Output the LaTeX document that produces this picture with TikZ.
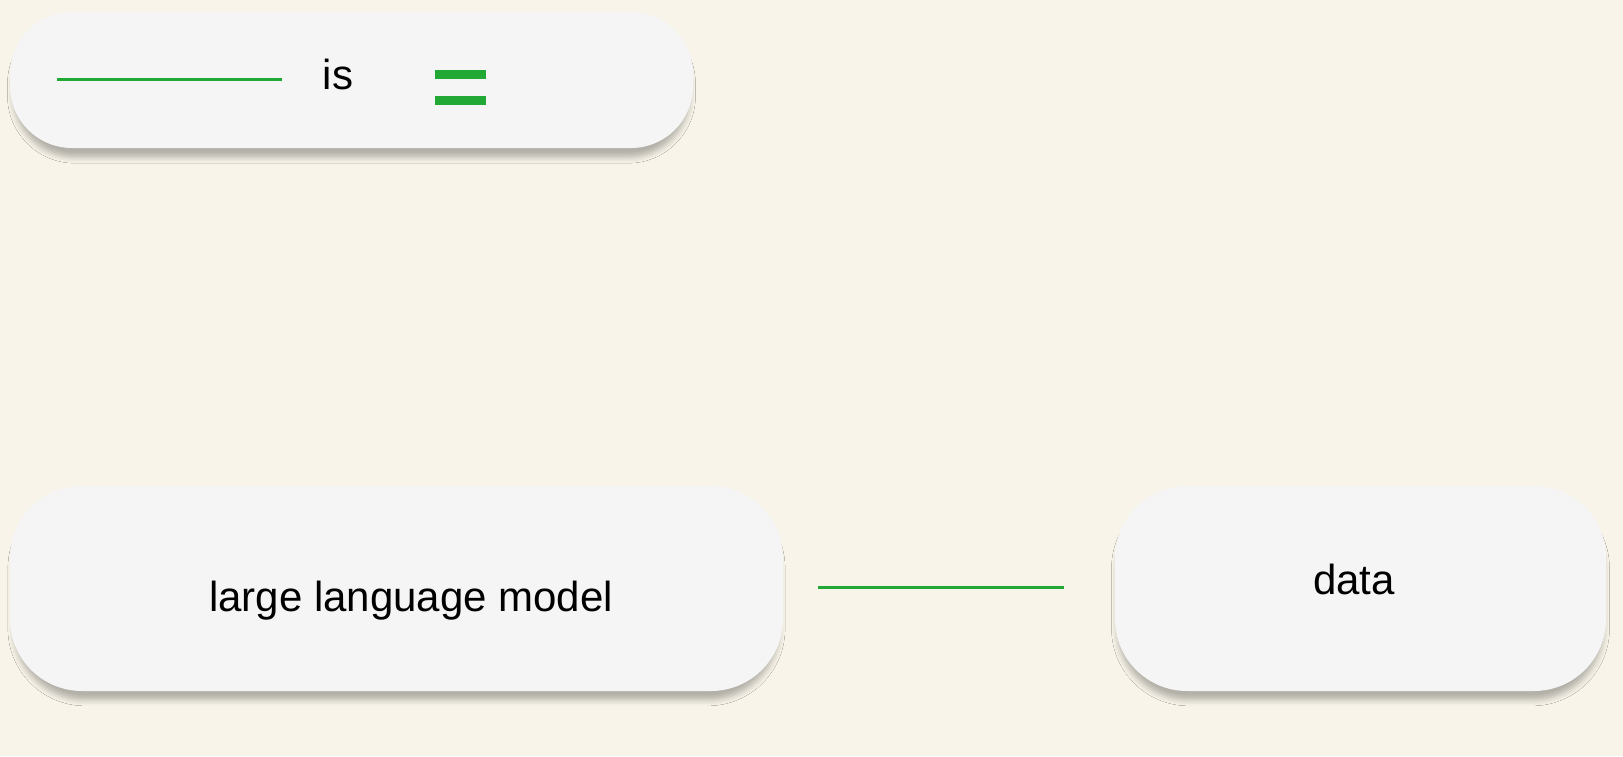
\documentclass[tikz,border=0pt]{standalone}
\usepackage{fontspec}
\setmainfont{Liberation Sans}
\usetikzlibrary{positioning, calc, shadows.blur}

\definecolor{paper}{HTML}{F8F4E9}
\definecolor{cardgray}{HTML}{F5F5F5}
\definecolor{blankgreen}{HTML}{22A935}

\begin{document}
\begin{tikzpicture}[
            x=1pt, y=-1pt,
            card/.style={rectangle, fill=cardgray, inner sep=0pt, rounded corners=#1, font=\fontsize{42}{50}\selectfont,
                blur shadow={shadow xshift=0pt, shadow yshift=-10pt, shadow blur radius=6pt, shadow opacity=28, shadow scale=0.99}},
            card/.default=62pt,
            blank/.style={draw=blankgreen, line width=3pt},
            word/.style={font=\fontsize{42}{50}\selectfont, inner sep=0pt}
        ]
        \fill[paper] (0,0) rectangle (1623,756);

        % top sentence
        \node[card, minimum width=683pt, minimum height=136pt] (sentence) at (351.5,80) {};
        \coordinate (gapstart) at (57,79);
        \coordinate (gapend) at (282,79);
        \draw[blank] (gapstart) -- (gapend);
        \node[word, anchor=base] (is) at (338,89) {is};
        \fill[blankgreen] (435,70) rectangle (486,79);
        \fill[blankgreen] (435,96) rectangle (486,105);

        % bottom pair
        \node[card=72pt, minimum width=773pt, minimum height=205pt] (llm) at (396.5,588.5) {};
        \node[word, anchor=base] (llmtext) at (411,611) {large language model};
        \node[card=72pt, minimum width=491pt, minimum height=205pt] (data) at (1360.5,588.5) {};
        \node[word, anchor=base] (datatext) at (1354,594) {data};

        \draw[blank] ([xshift=35pt,yshift=1.5pt]llm.east) -- ([xshift=-51pt,yshift=1.5pt]data.west);
\end{tikzpicture}
\end{document}
